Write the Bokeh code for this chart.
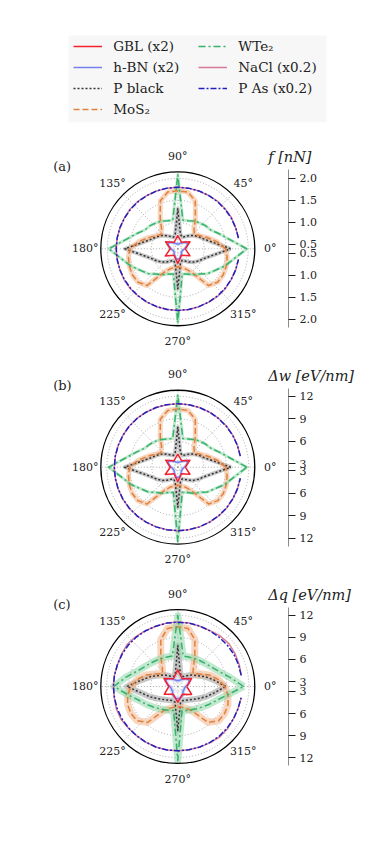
import numpy as np
from bokeh.plotting import figure
from bokeh.layouts import column
from bokeh.models import (Range1d, LinearAxis, FixedTicker, CustomJSTickFormatter,
                          Label, Legend, LegendItem, BoxAnnotation, ColumnDataSource)
from bokeh.embed import file_html
from bokeh.resources import INLINE

# ---------------- data ----------------
THETA = list(range(0, 360, 10))        # degrees, shared sampling
THETA_OPEN = list(range(10, 360, 10))  # NaCl / P As (no sample at 0 deg)
THETA_STAR = list(range(0, 360, 30))   # GBL vertices
ANGLE_TICKS = [0, 45, 90, 135, 180, 225, 270, 315]

NAMES = ["GBL (x2)", "h-BN (x2)", "P black", "MoS\u2082", "WTe\u2082", "NaCl (x0.2)", "P As (x0.2)"]

# (a) f [nN]
TICKS_A = [0.5, 1.0, 1.5, 2.0]
GBL_A = [0.57, 0.72, 0.57, 0.70, 0.57, 0.72, 0.57, 0.73, 0.57, 0.73, 0.57, 0.72]
HBN_A = [0.55, 0.58, 0.63, 0.65, 0.63, 0.58, 0.55, 0.53, 0.51, 0.51, 0.51, 0.53,
         0.55, 0.58, 0.63, 0.65, 0.63, 0.58, 0.55, 0.53, 0.51, 0.51, 0.51, 0.53,
         0.55, 0.58, 0.63, 0.64, 0.63, 0.58, 0.55, 0.53, 0.51, 0.51, 0.51, 0.53]
PBLACK_A = [1.60, 1.22, 1.04, 0.95, 0.87, 0.79, 0.72, 0.68, 0.74, 1.31, 0.74, 0.68,
            0.72, 0.79, 0.87, 0.95, 1.04, 1.22, 1.60, 1.22, 1.04, 0.95, 0.87, 0.79,
            0.72, 0.68, 0.74, 1.31, 0.74, 0.68, 0.72, 0.79, 0.87, 0.95, 1.04, 1.22]
MOS2_A = [1.49, 1.31, 1.13, 0.99, 0.90, 0.97, 1.20, 1.56, 1.71, 1.72, 1.71, 1.56,
          1.20, 0.97, 0.90, 0.99, 1.13, 1.31, 1.49, 1.54, 1.57, 1.59, 1.58, 1.49,
          1.01, 0.88, 0.83, 0.81, 0.83, 0.88, 1.01, 1.49, 1.58, 1.59, 1.57, 1.54]
WTE2_A = [1.97, 1.60, 1.40, 1.26, 1.22, 1.17, 1.13, 1.08, 1.06, 2.08, 1.06, 1.08,
          1.13, 1.17, 1.22, 1.26, 1.40, 1.60, 1.97, 1.70, 1.54, 1.38, 1.28, 1.15,
          1.08, 1.01, 0.98, 2.08, 0.98, 1.01, 1.08, 1.15, 1.28, 1.38, 1.54, 1.70]
NACL_A = [1.80, 1.80, 1.81, 1.81, 1.81, 1.80, 1.80, 1.80, 1.80, 1.80, 1.80, 1.80,
          1.81, 1.81, 1.80, 1.80, 1.80, 1.80, 1.80, 1.80, 1.81, 1.81, 1.80, 1.80,
          1.80, 1.80, 1.80, 1.80, 1.80, 1.80, 1.81, 1.81, 1.80, 1.80, 1.80]
PAS_A = [1.80, 1.80, 1.80, 1.80, 1.80, 1.80, 1.80, 1.80, 1.80, 1.80, 1.80, 1.80,
         1.80, 1.80, 1.80, 1.80, 1.80, 1.80, 1.80, 1.80, 1.80, 1.80, 1.80, 1.80,
         1.80, 1.80, 1.80, 1.80, 1.80, 1.80, 1.80, 1.80, 1.80, 1.80, 1.80]

# (b) Delta w [eV/nm]
TICKS_B = [3, 6, 9, 12]
GBL_B = [3.55, 4.42, 3.55, 4.28, 3.55, 4.42, 3.55, 4.48, 3.55, 4.48, 3.55, 4.42]
HBN_B = [3.42, 3.62, 3.88, 4.02, 3.88, 3.62, 3.42, 3.28, 3.22, 3.22, 3.22, 3.28,
         3.42, 3.62, 3.88, 4.02, 3.88, 3.62, 3.42, 3.28, 3.22, 3.22, 3.22, 3.28,
         3.42, 3.62, 3.88, 3.95, 3.88, 3.62, 3.42, 3.28, 3.22, 3.22, 3.22, 3.28]
PBLACK_B = [9.62, 7.35, 6.28, 5.75, 5.28, 4.82, 4.42, 4.22, 4.55, 7.88, 4.55, 4.22,
            4.42, 4.82, 5.28, 5.75, 6.28, 7.35, 9.62, 7.35, 6.28, 5.75, 5.28, 4.82,
            4.42, 4.22, 4.55, 7.88, 4.55, 4.22, 4.42, 4.82, 5.28, 5.75, 6.28, 7.35]
MOS2_B = [8.95, 7.88, 6.82, 6.02, 5.48, 5.88, 7.22, 9.35, 10.22, 10.30, 10.22, 9.35,
          7.22, 5.88, 5.48, 6.02, 6.82, 7.88, 8.95, 9.22, 9.42, 9.55, 9.48, 8.95,
          6.15, 5.35, 5.08, 4.95, 5.08, 5.35, 6.15, 8.95, 9.48, 9.55, 9.42, 9.22]
WTE2_B = [11.75, 9.62, 8.42, 7.62, 7.35, 7.08, 6.82, 6.55, 6.42, 12.15, 6.42, 6.55,
          6.82, 7.08, 7.35, 7.62, 8.42, 9.62, 11.75, 10.15, 9.22, 8.28, 7.68, 6.95,
          6.55, 6.15, 5.95, 12.42, 5.95, 6.15, 6.55, 6.95, 7.68, 8.28, 9.22, 10.15]
NACL_B = [11.00, 11.00, 11.02, 11.03, 11.02, 11.00, 11.00, 11.00, 11.00, 11.00, 11.00, 11.00,
          11.02, 11.03, 11.00, 11.00, 11.00, 11.00, 11.00, 11.00, 11.02, 11.03, 11.00, 11.00,
          11.00, 11.00, 11.00, 11.00, 11.00, 11.00, 11.02, 11.03, 11.00, 11.00, 11.00]
PAS_B = [11.00, 11.00, 11.00, 11.00, 11.00, 11.00, 11.00, 11.00, 11.00, 11.00, 11.00, 11.00,
         11.00, 11.00, 11.00, 11.00, 11.00, 11.00, 11.00, 11.00, 11.00, 11.00, 11.00, 11.00,
         11.00, 11.00, 11.00, 11.00, 11.00, 11.00, 11.00, 11.00, 11.00, 11.00, 11.00]

# (c) Delta q [eV/nm]
TICKS_C = [3, 6, 9, 12]
GBL_C = [3.54, 4.49, 3.54, 4.59, 3.54, 4.49, 3.54, 4.45, 3.54, 4.45, 3.54, 4.49]
HBN_C = [3.41, 3.68, 3.95, 4.09, 3.95, 3.68, 3.41, 3.27, 3.14, 3.14, 3.14, 3.27,
         3.41, 3.68, 3.95, 4.22, 3.95, 3.68, 3.41, 3.27, 3.27, 3.27, 3.27, 3.41,
         3.68, 3.81, 3.95, 3.95, 3.95, 3.81, 3.68, 3.41, 3.27, 3.27, 3.27, 3.27]
PBLACK_C = [8.84, 7.35, 6.26, 5.31, 4.77, 4.22, 3.88, 3.81, 4.22, 7.89, 4.22, 3.81,
            3.88, 4.22, 4.77, 5.31, 6.26, 7.35, 9.25, 7.35, 6.40, 5.58, 5.04, 4.70,
            4.49, 4.36, 4.49, 8.30, 4.49, 4.36, 4.49, 4.70, 5.04, 5.58, 6.40, 7.35]
MOS2_C = [8.71, 7.89, 6.94, 5.72, 5.04, 5.58, 6.94, 9.11, 10.34, 10.47, 10.34, 9.11,
          6.94, 5.58, 5.04, 5.72, 6.94, 7.89, 8.71, 9.25, 9.59, 9.68, 9.56, 8.71,
          6.12, 5.45, 5.17, 5.04, 5.17, 5.45, 6.12, 8.71, 9.56, 9.68, 9.59, 9.25]
WTE2_C = [11.29, 9.52, 8.30, 7.62, 7.21, 6.94, 6.74, 6.60, 6.53, 11.97, 6.53, 6.60,
          6.74, 6.94, 7.21, 7.62, 8.30, 9.52, 11.02, 9.11, 7.89, 7.21, 6.67, 6.26,
          5.99, 5.78, 5.65, 12.37, 5.65, 5.78, 5.99, 6.26, 6.67, 7.21, 7.89, 9.11]
NACL_C = [11.10, 11.20, 11.30, 11.40, 11.30, 11.10, 11.05, 11.08, 11.10, 11.08, 11.05, 11.10,
          11.20, 11.28, 11.15, 11.05, 11.08, 11.10, 11.10, 11.22, 11.25, 11.12, 11.05, 11.05,
          11.08, 11.10, 11.08, 11.05, 11.10, 11.15, 11.25, 11.20, 11.08, 11.05, 11.08]
PAS_C = [11.08, 11.10, 11.12, 11.10, 11.08, 11.06, 11.08, 11.08, 11.08, 11.08, 11.06, 11.08,
         11.10, 11.10, 11.08, 11.06, 11.08, 11.08, 11.08, 11.10, 11.10, 11.08, 11.06, 11.06,
         11.08, 11.08, 11.08, 11.06, 11.08, 11.10, 11.12, 11.10, 11.08, 11.06, 11.08]

# ---------------- style / layout ----------------
FONT = "DejaVu Serif"
FIG_W, PANEL_H, LEG_H = 366, 220, 135
CX = 177.3          # disc centre from figure left (px)
AXIS_X = 288.0      # radial scale line from figure left (px)
HALF = 79           # half length of radial scale (px)
OUTER_PX = 77       # radius of outer circle (px)
LABEL_PX = 92.5     # angle label distance (px)

STYLE = {
    "GBL (x2)":      dict(color="#f5202e", dash="solid", band=None),
    "h-BN (x2)":     dict(color="#7480ee", dash="solid", band="#b9c1f6"),
    "P black":       dict(color="#333333", dash="2 2", band="#9a9a9a"),
    "MoS\u2082":     dict(color="#e0823d", dash="6 3", band="#f2b48a"),
    "WTe\u2082":     dict(color="#35b26b", dash="7 3 2 3", band="#8fd6a8"),
    "NaCl (x0.2)":   dict(color="#d77a94", dash="solid", band=None),
    "P As (x0.2)":   dict(color="#2020c0", dash="6 2 2 2", band=None),
}
DRAW_ORDER = ["P black", "MoS\u2082", "WTe\u2082", "h-BN (x2)", "GBL (x2)", "NaCl (x0.2)", "P As (x0.2)"]


def polar_xy(theta_deg, r, r0, close=True):
    t = np.deg2rad(np.asarray(theta_deg, dtype=float))
    u = np.asarray(r, dtype=float) - r0
    x, y = u * np.cos(t), u * np.sin(t)
    if close:
        x, y = np.append(x, x[0]), np.append(y, y[0])
    return x, y


def make_panel(tag, title, r0, rmax, ticks, ndig, curves, bands, cy_top):
    k = OUTER_PX / (rmax - r0)
    p = figure(width=FIG_W, height=PANEL_H, output_backend="svg", toolbar_location=None,
               x_axis_location=None, y_axis_location=None,
               x_range=Range1d(-CX / k, (FIG_W - CX) / k),
               y_range=Range1d(-(PANEL_H - cy_top) / k, cy_top / k),
               min_border=0, min_border_left=0, min_border_right=0,
               min_border_top=0, min_border_bottom=0)
    p.outline_line_color = None
    p.grid.visible = False
    R = rmax - r0
    # grid
    for v in ticks:
        p.circle(x=[0], y=[0], radius=v - r0, fill_color=None, line_color="#a0a0a0",
                 line_dash="1 2", line_width=0.9)
    for a in ANGLE_TICKS:
        t = np.deg2rad(a)
        p.segment(x0=[0], y0=[0], x1=[R * np.cos(t)], y1=[R * np.sin(t)],
                  line_color="#a0a0a0", line_dash="1 2", line_width=0.9)
    # bands
    for name in DRAW_ORDER:
        th, rr, closed = curves[name]
        st = STYLE[name]
        if st["band"] and bands.get(name):
            x, y = polar_xy(th, rr, r0, closed)
            p.line(x, y, line_color=st["band"], line_width=bands[name], line_alpha=0.55,
                   line_join="round")
    # lines
    for name in DRAW_ORDER:
        th, rr, closed = curves[name]
        st = STYLE[name]
        x, y = polar_xy(th, rr, r0, closed)
        p.line(x, y, line_color=st["color"], line_width=1.5, line_dash=st["dash"],
               line_join="round")
    # outer circle
    p.circle(x=[0], y=[0], radius=R, fill_color=None, line_color="black", line_width=1.3)
    # angle labels
    for a in ANGLE_TICKS:
        t = np.deg2rad(a)
        p.add_layout(Label(x=LABEL_PX / k * np.cos(t), y=LABEL_PX / k * np.sin(t),
                           text=f"{a}\u00b0", text_align="center", text_baseline="middle",
                           text_font=FONT, text_font_size="11px", text_color="#222222"))
    p.add_layout(Label(x=-124.6 / k, y=82 / k, text=tag, text_align="left",
                       text_baseline="middle", text_font=FONT, text_font_size="13px",
                       text_color="#222222"))
    p.add_layout(Label(x=90.4 / k, y=91.5 / k, text=title, text_align="left",
                       text_baseline="middle", text_font=FONT, text_font_size="14.5px",
                       text_font_style="italic", text_color="#222222"))
    # mirrored radial scale on the right
    tick_pos = [v - r0 for v in ticks] + [-(v - r0) for v in ticks]
    ax = LinearAxis(ticker=FixedTicker(ticks=tick_pos, minor_ticks=[]),
                    formatter=CustomJSTickFormatter(args=dict(r0=r0, nd=ndig),
                                                    code="return (Math.abs(tick) + r0).toFixed(nd);"),
                    fixed_location=(AXIS_X - CX) / k, bounds=(-HALF / k, HALF / k))
    ax.axis_line_color = "#8c8c8c"
    ax.axis_line_width = 1
    ax.major_tick_line_color = "#222222"
    ax.major_tick_line_width = 1.2
    ax.major_tick_out = 7
    ax.major_tick_in = 0
    ax.minor_tick_out = 0
    ax.minor_tick_in = 0
    ax.major_label_standoff = 4
    ax.major_label_text_font = FONT
    ax.major_label_text_font_size = "11px"
    ax.major_label_text_color = "#222222"
    p.add_layout(ax, "right")
    return p


def curves_for(gbl, hbn, pb, mos2, wte2, nacl, pas):
    return {
        "GBL (x2)": (THETA_STAR, gbl, True),
        "h-BN (x2)": (THETA, hbn, True),
        "P black": (THETA, pb, True),
        "MoS\u2082": (THETA, mos2, True),
        "WTe\u2082": (THETA, wte2, True),
        "NaCl (x0.2)": (THETA_OPEN, nacl, False),
        "P As (x0.2)": (THETA_OPEN, pas, False),
    }


pa = make_panel("(a)", "f [nN]", 0.40, 2.15, TICKS_A, 1,
                curves_for(GBL_A, HBN_A, PBLACK_A, MOS2_A, WTE2_A, NACL_A, PAS_A),
                {"P black": 4, "MoS\u2082": 5, "WTe\u2082": 3, "h-BN (x2)": 3}, 113.3)
pb = make_panel("(b)", "\u0394w [eV/nm]", 2.55, 12.8, TICKS_B, 0,
                curves_for(GBL_B, HBN_B, PBLACK_B, MOS2_B, WTE2_B, NACL_B, PAS_B),
                {"P black": 4, "MoS\u2082": 5, "WTe\u2082": 3, "h-BN (x2)": 3}, 111.7)
pc = make_panel("(c)", "\u0394q [eV/nm]", 2.32, 12.8, TICKS_C, 0,
                curves_for(GBL_C, HBN_C, PBLACK_C, MOS2_C, WTE2_C, NACL_C, PAS_C),
                {"P black": 6, "MoS\u2082": 7, "WTe\u2082": 7, "h-BN (x2)": 4}, 111.0)

# ---------------- legend ----------------
lf = figure(width=FIG_W, height=LEG_H, output_backend="svg", toolbar_location=None,
            x_axis_location=None, y_axis_location=None,
            x_range=Range1d(0, FIG_W), y_range=Range1d(LEG_H, 0),
            min_border=0, min_border_left=0, min_border_right=0,
            min_border_top=0, min_border_bottom=0)
lf.outline_line_color = None
lf.grid.visible = False
lf.add_layout(BoxAnnotation(left=68, right=326, top=35, bottom=121.7,
                            fill_color="#f7f7f7", fill_alpha=1.0, line_color=None))
# legend handles: renderers with one undefined (NaN) point, so only the legend icon shows
handle_src = ColumnDataSource(data=dict(x=np.array([np.nan]), y=np.array([np.nan])))
items = []
for name in NAMES:
    st = STYLE[name]
    r = lf.line(x="x", y="y", source=handle_src, line_color=st["color"], line_width=1.5,
                line_dash=st["dash"])
    items.append(LegendItem(label=name, renderers=[r]))


def make_legend(its, loc):
    return Legend(items=its, location=loc, padding=0, spacing=5, margin=0,
                  glyph_width=29, glyph_height=16, label_height=16, label_standoff=11,
                  label_text_font=FONT, label_text_font_size="13.5px",
                  label_text_color="#222222", background_fill_alpha=0,
                  border_line_color=None)


lf.add_layout(make_legend(items[:4], (73.3, 18)))
lf.add_layout(make_legend(items[4:], (198.3, 39)))

layout = column(lf, pa, pb, pc, spacing=0)
open("out.html", "w").write(file_html(layout, INLINE))
